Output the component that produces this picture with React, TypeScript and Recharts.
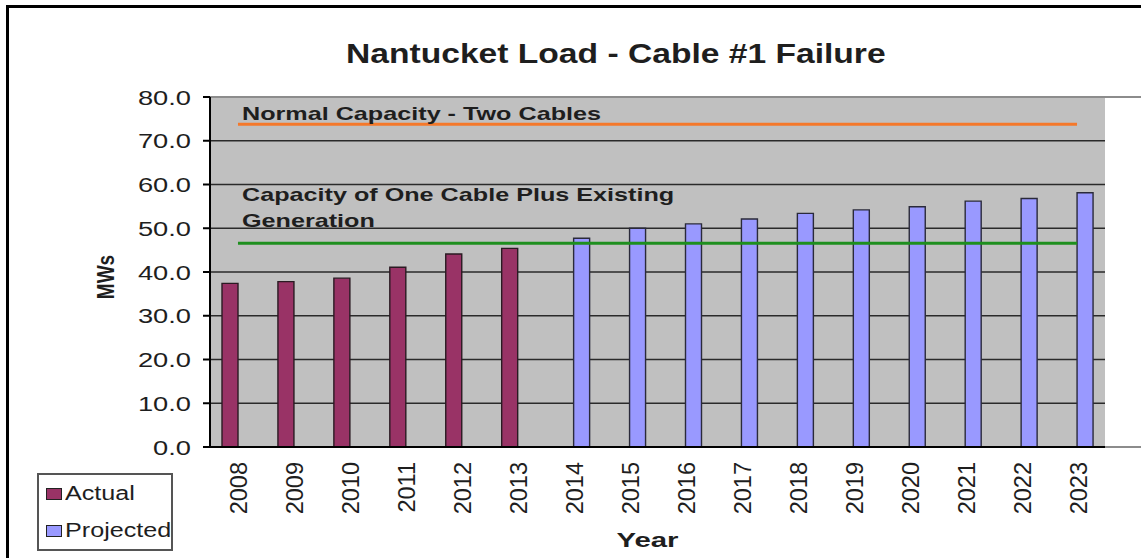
import { Bar, BarChart, CartesianGrid, Legend, ReferenceArea, ReferenceLine, XAxis, YAxis } from "recharts";

const years = ["2008", "2009", "2010", "2011", "2012", "2013", "2014", "2015", "2016", "2017", "2018", "2019", "2020", "2021", "2022", "2023"];
const actual = [37.4, 37.8, 38.6, 41.1, 44.1, 45.4, null, null, null, null, null, null, null, null, null, null];
const projected = [null, null, null, null, null, null, 47.7, 50.0, 51.0, 52.1, 53.4, 54.2, 54.9, 56.2, 56.8, 58.1];
const yTicks = [0, 10, 20, 30, 40, 50, 60, 70, 80];
const gridValues = [10, 20, 30, 40, 50, 60, 70];
// category boundaries on the numeric helper axis (Excel puts ticks between categories)
const boundaries = years.map((_, i) => i).concat(years.length);

const normalCapacity = 73.8;
const oneCableCapacity = 46.6;

const data = years.map((year, i) => ({ year, actual: actual[i], projected: projected[i] }));

const FONT = "'Liberation Sans', Arial, sans-serif";
const INK = "#1e1e1e";

function YTick({ x, y, payload }: any) {
  return (
    <text transform={`translate(${x},${y}) scale(1.3,1)`} textAnchor="end" dy="0.36em" fontFamily={FONT} fontSize={21} fill={INK}>
      {Number(payload.value).toFixed(1)}
    </text>
  );
}

function XTick({ x, y, payload }: any) {
  return (
    <text transform={`translate(${x + 1},${y}) rotate(-90)`} x={-6} textAnchor="end" dy="0.36em" fontFamily={FONT} fontSize={23.5} fill={INK}>
      {payload.value}
    </text>
  );
}

function MWsLabel({ viewBox }: any) {
  const cx = viewBox.x + 105;
  const cy = viewBox.y + viewBox.height / 2 + 5;
  return (
    <text transform={`translate(${cx},${cy}) scale(1.25,1) rotate(-90)`} textAnchor="middle" dy="0.36em" fontFamily={FONT} fontWeight="bold" fontSize={19} fill={INK}>
      MWs
    </text>
  );
}

function YearLabel({ viewBox }: any) {
  const cx = viewBox.x + viewBox.width / 2 - 10;
  return (
    <text transform={`translate(${cx},${viewBox.y + 99}) scale(1.4,1)`} textAnchor="middle" fontFamily={FONT} fontWeight="bold" fontSize={21} fill={INK}>
      Year
    </text>
  );
}

const lineNote = (lines: string[], firstDy: number) => (props: any) => {
  const vb = props.viewBox;
  return (
    <g>
      {lines.map((t, i) => (
        <text key={t} transform={`translate(${vb.x + 4},${vb.y + firstDy + i * 26}) scale(1.4,1)`} fontFamily={FONT} fontWeight="bold" fontSize={18} fill={INK}>
          {t}
        </text>
      ))}
    </g>
  );
};

function LegendBox({ payload }: any) {
  return (
    <div style={{ border: "2px solid #555", background: "#fff", height: 78, boxSizing: "border-box", padding: "0 0 0 7px" }}>
      {(payload || []).map((p: any) => (
        <div key={p.value} style={{ display: "flex", alignItems: "center", height: 37 }}>
          <span style={{ width: 14, height: 10, background: p.color, border: "1px solid #222", marginRight: 3, flex: "none" }} />
          <span style={{ fontFamily: FONT, fontSize: 19.5, color: INK, transform: "scaleX(1.29)", transformOrigin: "left center", whiteSpace: "nowrap" }}>
            {p.value}
          </span>
        </div>
      ))}
    </div>
  );
}

export default function App() {
  return (
    <div style={{ position: "absolute", left: 0, top: 0, width: 1141, height: 558, background: "#fff", overflow: "hidden" }}>
      <div style={{ position: "absolute", left: 6, top: 5, width: 1200, height: 600, borderTop: "3px solid #000", borderLeft: "3px solid #000" }} />
      <div
        style={{
          position: "absolute",
          left: 0,
          top: 38,
          width: 1141,
          textAlign: "center",
          fontFamily: FONT,
          fontWeight: "bold",
          fontSize: 28,
          lineHeight: "32px",
          color: INK,
        }}
      >
        <span style={{ display: "inline-block", transform: "scaleX(1.2)", marginLeft: 90 }}>Nantucket Load - Cable #1 Failure</span>
      </div>
      <BarChart width={1141} height={558} data={data} margin={{ top: 97, right: 36, left: 0, bottom: 10 }} barGap={0} barSize={16}>
        <CartesianGrid xAxisId="year" yAxisId={0} vertical={false} horizontalValues={gridValues} fill="#c0c0c0" stroke="#2a2a2a" strokeWidth={1.6} />
        <XAxis
          xAxisId="grid"
          type="number"
          domain={[0, years.length]}
          ticks={boundaries}
          allowDataOverflow
          height={1}
          tick={false}
          tickSize={8}
          tickLine={{ stroke: "#000", strokeWidth: 2 }}
          axisLine={{ stroke: "#000", strokeWidth: 2 }}
        />
        <XAxis
          xAxisId="gridInner"
          type="number"
          domain={[0, years.length]}
          ticks={boundaries}
          allowDataOverflow
          mirror
          tick={false}
          tickSize={5}
          tickLine={{ stroke: "#000", strokeWidth: 2 }}
          axisLine={false}
        />
        <XAxis xAxisId="year" dataKey="year" height={100} interval={0} axisLine={false} tickLine={false} tick={<XTick />} label={YearLabel} />
        <YAxis
          domain={[0, 80]}
          ticks={yTicks}
          width={210}
          tickSize={7}
          tickMargin={12}
          tick={<YTick />}
          tickLine={{ stroke: "#000", strokeWidth: 2 }}
          axisLine={{ stroke: "#000", strokeWidth: 2 }}
          label={MWsLabel}
        />
        <YAxis yAxisId="inner" domain={[0, 80]} ticks={yTicks} mirror tick={false} tickSize={6} axisLine={false} tickLine={{ stroke: "#000", strokeWidth: 2 }} />
        <ReferenceArea xAxisId="grid" x1={0} x2={years.length} y1={0} y2={80} fill="none" stroke="#8c8c8c" strokeWidth={2} ifOverflow="visible" />
        <Bar xAxisId="year" dataKey="actual" name="Actual" fill="#993366" stroke="#2a1a22" strokeWidth={1.4} isAnimationActive={false} />
        <Bar xAxisId="year" dataKey="projected" name="Projected" fill="#9999ff" stroke="#2a2a3a" strokeWidth={1.4} isAnimationActive={false} />
        <ReferenceLine
          xAxisId="year"
          segment={[
            { x: years[0], y: normalCapacity },
            { x: years[years.length - 1], y: normalCapacity },
          ]}
          stroke="#f5782a"
          strokeWidth={3}
          label={lineNote(["Normal Capacity - Two Cables"], -4.5)}
        />
        <ReferenceLine
          xAxisId="year"
          segment={[
            { x: years[0], y: oneCableCapacity },
            { x: years[years.length - 1], y: oneCableCapacity },
          ]}
          stroke="#1e8f1e"
          strokeWidth={3}
          label={lineNote(["Capacity of One Cable Plus Existing", "Generation"], -42)}
        />
        <Legend
          layout="vertical"
          align="center"
          verticalAlign="middle"
          content={<LegendBox />}
          wrapperStyle={{ left: 37, top: 473, width: 136 }}
        />
      </BarChart>
    </div>
  );
}
